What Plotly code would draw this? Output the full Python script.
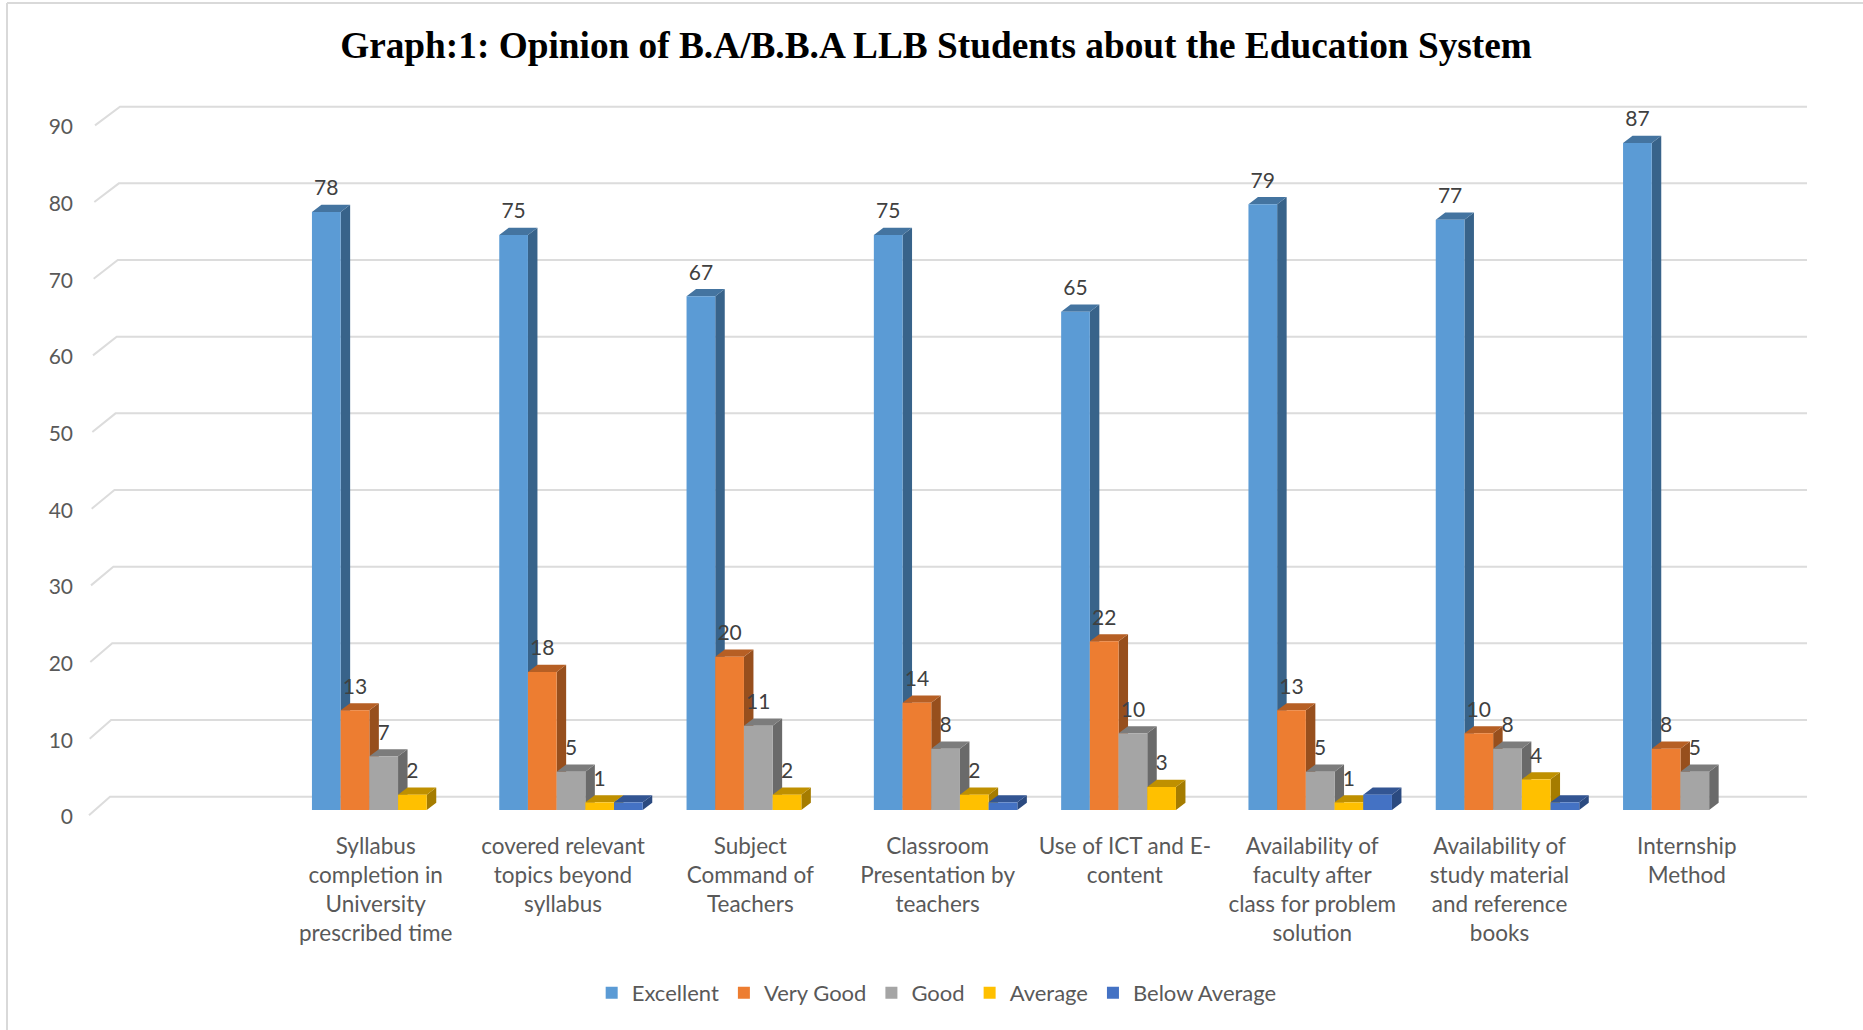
import plotly.graph_objects as go

categories = [
    "Syllabus<br>completion in<br>University<br>prescribed time",
    "covered relevant<br>topics beyond<br>syllabus",
    "Subject<br>Command of<br>Teachers",
    "Classroom<br>Presentation by<br>teachers",
    "Use of ICT and E-<br>content",
    "Availability of<br>faculty after<br>class for problem<br>solution",
    "Availability of<br>study material<br>and reference<br>books",
    "Internship<br>Method",
]
excellent = [78, 75, 67, 75, 65, 79, 77, 87]
very_good = [13, 18, 20, 14, 22, 13, 10, 8]
good = [7, 5, 11, 8, 10, 5, 8, 5]
average = [2, 1, 2, 2, 3, 1, 4, 0]
below_average = [0, 1, 0, 1, 0, 2, 1, 0]
y_ticks = [0, 10, 20, 30, 40, 50, 60, 70, 80, 90]

series = [
    ("Excellent", excellent, "#5B9BD5", "#4474A0", "#38638A", True),
    ("Very Good", very_good, "#ED7D31", "#B65F24", "#974F1D", True),
    ("Good", good, "#A5A5A5", "#7C7C7C", "#6A6A6A", True),
    ("Average", average, "#FFC000", "#BF9000", "#A57C00", True),
    ("Below Average", below_average, "#4472C4", "#335593", "#2B4A80", False),
]

W, H = 1863, 1030
L, R, T, B = 80, 1830, 60, 825
PITCH = 187.3
X0 = 383.7
UNIT = 7.667
BASE = 810.0
BAR_W = 28.7 / PITCH
DX = 9.5 / PITCH
DY = 7.2 / UNIT


def xd(px):
    return (px - X0) / PITCH


def yd(px):
    return (BASE - px) / UNIT


fig = go.Figure()

gx, gy = [], []
for v in y_ticks:
    gx += [xd(89 + v * 6 / 90), xd(110 + v * 10 / 90), xd(1807), None]
    gy += [v - 0.7, v + 13.3 / UNIT, v + 13.3 / UNIT, None]
fig.add_trace(go.Scatter(x=gx, y=gy, mode="lines", line=dict(color="#DCDCDC", width=2),
                         showlegend=False, hoverinfo="skip", zorder=-1))

for k, (name, vals, front, top, side, labelled) in enumerate(series):
    offset = (k - 2.5) * BAR_W
    tx, ty, sx, sy = [], [], [], []
    for i, v in enumerate(vals):
        if v <= 0:
            continue
        xl = i + offset
        xr = xl + BAR_W
        tx += [xl, xr, xr + DX, xl + DX, xl, None]
        ty += [v, v, v + DY, v + DY, v, None]
        sx += [xr, xr + DX, xr + DX, xr, xr, None]
        sy += [0, DY, v + DY, v, 0, None]
    for px, py, col in ((sx, sy, side), (tx, ty, top)):
        fig.add_trace(go.Scatter(x=px, y=py, mode="lines", fill="toself", fillcolor=col,
                                 line=dict(width=0, color=col), showlegend=False,
                                 hoverinfo="skip", zorder=2 * k))
    fig.add_trace(go.Bar(x=list(range(len(vals))), y=vals, name=name, width=BAR_W, offset=offset,
                         marker=dict(color=front, line=dict(width=0)), zorder=2 * k + 1))
    if labelled:
        lx = [i + offset + BAR_W / 2 for i, v in enumerate(vals) if v > 0]
        ly = [v + 1.5 for v in vals if v > 0]
        lt = [str(v) for v in vals if v > 0]
        fig.add_trace(go.Scatter(x=lx, y=ly, mode="text", text=lt, textposition="top center",
                                 textfont=dict(family="Lato", size=21, color="#404040"),
                                 showlegend=False, hoverinfo="skip", zorder=30))

fig.update_layout(
    width=W, height=H,
    margin=dict(l=L, r=W - R, t=T, b=H - B, autoexpand=False),
    paper_bgcolor="white", plot_bgcolor="rgba(0,0,0,0)",
    barmode="overlay",
    title=dict(text="<b>Graph:1: Opinion of B.A/B.B.A LLB Students about the Education System</b>",
               x=(341 + 1531) / 2 / W, xanchor="center", y=1 - 45 / H, yanchor="middle",
               font=dict(family="Liberation Serif", size=37.3, color="black")),
    font=dict(family="Lato", color="#595959"),
    xaxis=dict(range=[xd(L), xd(R)], tickvals=list(range(len(categories))), ticktext=categories,
               showgrid=False, zeroline=False, showline=False, ticks="",
               ticklabelshift=-8, ticklabelstandoff=5, tickangle=0,
               tickfont=dict(family="Lato", size=22.5, color="#595959")),
    yaxis=dict(range=[yd(B), yd(T)], tickvals=y_ticks, showgrid=False, zeroline=False,
               showline=False, ticks="", ticklabelshift=7, ticklabelstandoff=6,
               tickfont=dict(family="Lato", size=21, color="#595959")),
    legend=dict(orientation="h", x=(604 + 1278) / 2 / W - 29 / W, xanchor="center", xref="paper",
                y=-(993 - B) / (B - T), yanchor="middle", traceorder="normal",
                font=dict(family="Lato", size=22, color="#595959")),
    shapes=[
        dict(type="line", xref="paper", yref="paper",
             x0=(7 - L) / (R - L), x1=(7 - L) / (R - L), y0=(B - H) / (B - T), y1=(B - 3) / (B - T),
             line=dict(color="#D9D9D9", width=2)),
        dict(type="line", xref="paper", yref="paper",
             x0=(7 - L) / (R - L), x1=(W - L) / (R - L), y0=(B - 3) / (B - T), y1=(B - 3) / (B - T),
             line=dict(color="#D9D9D9", width=2)),
    ],
)

fig.write_html("out.html", config=dict(displayModeBar=False),
               post_script="document.body.style.margin='0';document.body.style.overflow='hidden';")
